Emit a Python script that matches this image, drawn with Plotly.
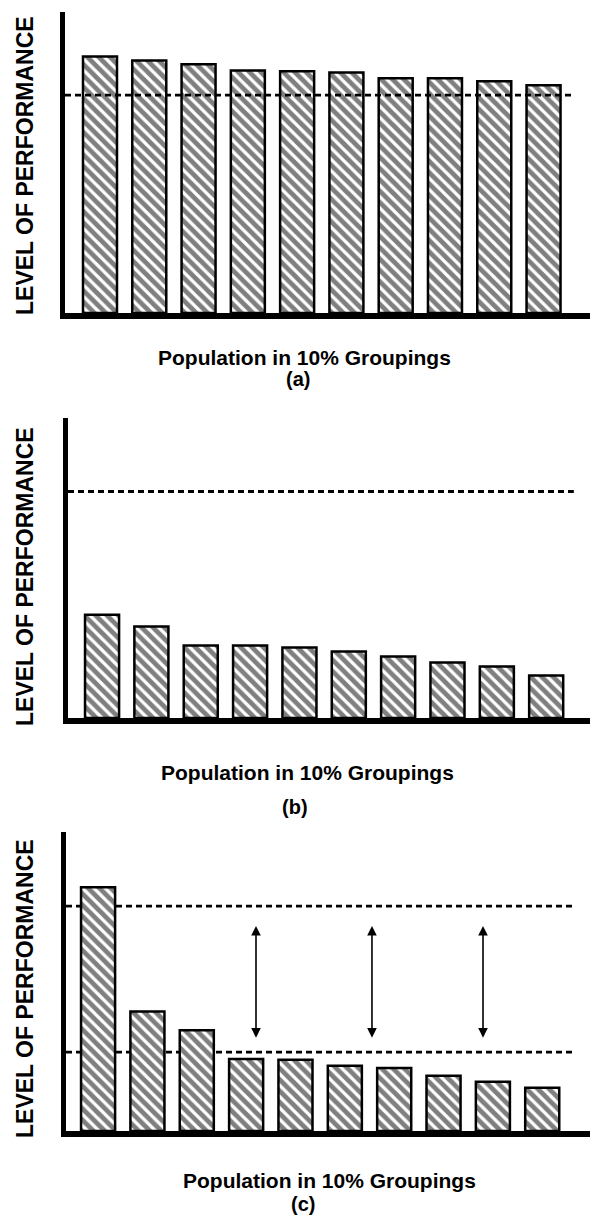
import plotly.graph_objects as go

# ---------------- data ----------------
groups = list(range(1, 11))  # population in 10% groupings (deciles)

perf_a = [85.2, 83.9, 82.6, 80.6, 80.3, 79.9, 78.0, 78.0, 77.0, 75.7]
perf_b = [34.4, 30.5, 24.2, 24.2, 23.5, 22.2, 20.5, 18.5, 17.2, 14.2]
perf_c = [81.5, 40.0, 33.7, 24.1, 23.8, 21.8, 21.1, 18.5, 16.5, 14.5]

target_a = [72.4]
target_b = [75.5]
target_c = [75.2, 26.4]

arrow_x = [4.2, 6.55, 8.8]
arrow_top = [68.6, 68.6, 68.6]
arrow_bottom = [30.7, 30.7, 30.7]

y_title = "LEVEL OF PERFORMANCE"
x_title = "Population in 10% Groupings"
panel_tags = ["(a)", "(b)", "(c)"]

# ---------------- layout helpers ----------------
OFF = 8                      # default page body margin
W, H = 598 - OFF, 1221 - OFF
FONT = "Liberation Sans, Arial, sans-serif"


def px_x(p):
    return (p - OFF) / W


def px_y(p):
    return 1 - (p - OFF) / H


# per panel: axis-left px, top px, baseline px, x-range, dashed-line end (data x), y-title centre px
panels = [
    dict(left=65, top=12, base=313, xr=[0.29, 11.105], dend=10.58, ytc=166),
    dict(left=68, top=418, base=718, xr=[0.31, 11.05], dend=10.56, ytc=577),
    dict(left=66, top=832, base=1131, xr=[0.35, 11.13], dend=10.67, ytc=989),
]
series = [perf_a, perf_b, perf_c]
targets = [target_a, target_b, target_c]
dash_layers = ["above", "below", "below"]

fig = go.Figure()
shapes = []
annotations = []

for i, (pn, vals) in enumerate(zip(panels, series)):
    xa = "x" if i == 0 else f"x{i+1}"
    ya = "y" if i == 0 else f"y{i+1}"
    fig.add_trace(
        go.Bar(
            x=groups,
            y=vals,
            width=0.69,
            xaxis=xa,
            yaxis=ya,
            marker=dict(
                color="white",
                line=dict(color="black", width=2.5),
                pattern=dict(shape="\\", size=8, solidity=0.6,
                             fgcolor="black", bgcolor="white"),
            ),
            showlegend=False,
            hoverinfo="skip",
        )
    )
    axkey_x = "xaxis" if i == 0 else f"xaxis{i+1}"
    axkey_y = "yaxis" if i == 0 else f"yaxis{i+1}"
    fig.layout[axkey_x] = dict(
        domain=[px_x(pn["left"]), 1],
        range=pn["xr"],
        anchor=ya,
        showline=True, linewidth=6, linecolor="black",
        showticklabels=False, ticks="", showgrid=False, zeroline=False,
        fixedrange=True,
    )
    fig.layout[axkey_y] = dict(
        domain=[px_y(pn["base"]), px_y(pn["top"])],
        range=[0, 100],
        anchor=xa,
        showline=True, linewidth=5, linecolor="black",
        showticklabels=False, ticks="", showgrid=False, zeroline=False,
        fixedrange=True,
    )
    for t in targets[i]:
        shapes.append(dict(
            type="line", xref=xa, yref=ya,
            x0=pn["xr"][0], x1=pn["dend"], y0=t, y1=t,
            line=dict(color="black", width=2.8, dash="6px,4px"),
            layer=dash_layers[i],
        ))
    # y-axis title
    annotations.append(dict(
        text=f"<b>{y_title}</b>", xref="paper", yref="paper",
        x=px_x(25), y=px_y(pn["ytc"]),
        textangle=-90, showarrow=False, xanchor="center", yanchor="middle",
        font=dict(family=FONT, size=23, color="black"),
    ))

# x titles and panel tags
xlab_pos = [(305, 357), (307, 772), (330, 1180)]
tag_pos = [(298, 379), (295, 807), (303, 1204)]
for (lx, ly), (tx, ty), tag in zip(xlab_pos, tag_pos, panel_tags):
    annotations.append(dict(
        text=f"<b>{x_title}</b>", xref="paper", yref="paper",
        x=px_x(lx), y=px_y(ly), showarrow=False,
        xanchor="center", yanchor="middle",
        font=dict(family=FONT, size=21, color="black"),
    ))
    annotations.append(dict(
        text=f"<b>{tag}</b>", xref="paper", yref="paper",
        x=px_x(tx), y=px_y(ty), showarrow=False,
        xanchor="center", yanchor="middle",
        font=dict(family=FONT, size=20, color="black"),
    ))

# double-headed arrows in panel (c)
for ax_, top, bot in zip(arrow_x, arrow_top, arrow_bottom):
    annotations.append(dict(
        x=ax_, y=top, ax=ax_, ay=bot,
        xref="x3", yref="y3", axref="x3", ayref="y3",
        text="", showarrow=True,
        arrowhead=2, startarrowhead=2, arrowside="end+start",
        arrowsize=1.2, startarrowsize=1.2, arrowwidth=1.6, arrowcolor="black",
    ))

fig.update_layout(
    width=W, height=H,
    margin=dict(l=0, r=0, t=0, b=0),
    paper_bgcolor="white", plot_bgcolor="white",
    shapes=shapes, annotations=annotations,
    bargap=0.3,
)

fig.write_html("out.html", config={"displayModeBar": False})
